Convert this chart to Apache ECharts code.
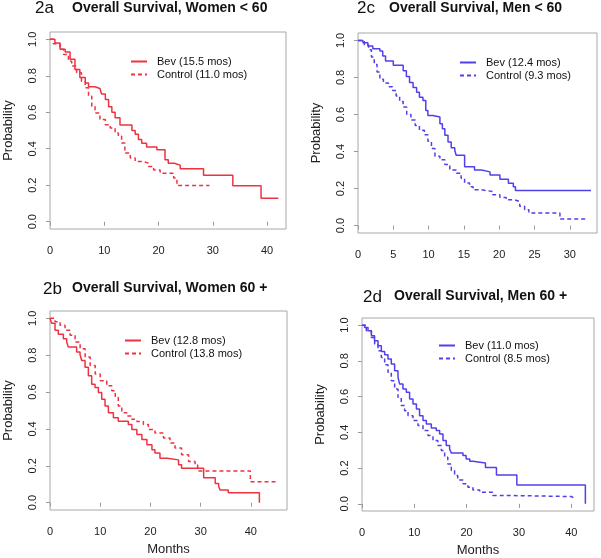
<!DOCTYPE html>
<html>
<head>
<meta charset="utf-8">
<script src="https://cdn.jsdelivr.net/npm/echarts@6/dist/echarts.min.js"></script>
<style>
  html, body { margin: 0; padding: 0; background: #fff; }
  #chart { width: 601px; height: 558px; }
</style>
</head>
<body>
<div id="chart"></div>
<script>
// survival curves: time (months) -> probability after the step
const womenU60BevT  = [0, 0.9, 1.85, 2.8, 3.7, 4.6, 5.5, 6.5, 7.1, 8.3, 9.2, 9.5, 10.2, 10.8, 11.4, 12.0, 12.9, 15.1, 15.7, 16.3, 16.9, 17.8, 19.7, 21.2, 21.8, 22.9, 24.0, 28.3, 33.7, 38.9, 42.1];
const womenU60BevS  = [1.0, 0.98, 0.945, 0.93, 0.89, 0.835, 0.79, 0.76, 0.74, 0.73, 0.72, 0.70, 0.67, 0.63, 0.60, 0.57, 0.53, 0.50, 0.48, 0.45, 0.43, 0.41, 0.395, 0.34, 0.32, 0.31, 0.29, 0.255, 0.197, 0.128, 0.128];
const womenU60CtlT  = [0, 0.6, 1.85, 2.5, 3.4, 4.0, 4.9, 5.8, 6.5, 7.1, 7.7, 8.3, 9.2, 10.2, 11.1, 12.0, 12.6, 13.2, 13.8, 14.8, 15.7, 17.2, 18.2, 19.1, 20.3, 22.8, 23.4, 29.4];
const womenU60CtlS  = [1.0, 0.975, 0.945, 0.917, 0.88, 0.853, 0.817, 0.77, 0.734, 0.688, 0.633, 0.596, 0.56, 0.532, 0.514, 0.486, 0.468, 0.431, 0.376, 0.349, 0.33, 0.321, 0.303, 0.284, 0.266, 0.239, 0.198, 0.198];

const menU60BevT    = [0, 0.7, 1.4, 2.1, 3.1, 3.5, 3.9, 5.0, 6.4, 6.85, 7.3, 7.8, 8.3, 8.7, 9.2, 9.6, 9.9, 10.6, 11.6, 11.95, 12.3, 12.75, 13.2, 13.7, 13.9, 15.1, 16.5, 17.5, 18.7, 20.1, 21.3, 22.0, 22.3, 33.0];
const menU60BevS    = [1.0, 0.988, 0.97, 0.955, 0.943, 0.916, 0.889, 0.866, 0.836, 0.805, 0.773, 0.746, 0.72, 0.693, 0.675, 0.621, 0.595, 0.586, 0.55, 0.523, 0.488, 0.452, 0.421, 0.407, 0.38, 0.318, 0.3, 0.29, 0.273, 0.25, 0.229, 0.21, 0.189, 0.189];
const menU60CtlT    = [0, 0.9, 1.5, 1.9, 2.3, 2.7, 3.1, 3.6, 4.3, 4.9, 5.4, 5.9, 6.4, 6.9, 7.5, 8.1, 8.7, 9.4, 9.9, 10.4, 10.9, 11.6, 12.3, 13.0, 13.9, 14.6, 15.1, 15.8, 16.3, 17.5, 19.1, 20.1, 21.0, 22.2, 22.9, 23.6, 24.2, 28.6, 32.6];
const menU60CtlS    = [1.0, 0.975, 0.95, 0.91, 0.87, 0.83, 0.79, 0.77, 0.75, 0.73, 0.70, 0.67, 0.64, 0.60, 0.57, 0.54, 0.515, 0.49, 0.455, 0.416, 0.375, 0.355, 0.33, 0.30, 0.283, 0.255, 0.23, 0.21, 0.193, 0.184, 0.166, 0.152, 0.139, 0.13, 0.104, 0.086, 0.068, 0.035, 0.035];

const womenO60BevT  = [0, 0.33, 1.0, 1.66, 2.66, 3.32, 3.65, 5.3, 5.98, 6.31, 6.98, 7.64, 8.3, 8.97, 9.63, 10.3, 10.96, 11.63, 12.62, 13.6, 15.6, 16.3, 17.3, 18.3, 19.3, 20.3, 20.9, 21.9, 23.3, 25.6, 26.2, 30.6, 32.9, 33.6, 33.9, 35.5, 41.7];
const womenO60BevS  = [1.0, 0.973, 0.936, 0.914, 0.89, 0.872, 0.845, 0.817, 0.804, 0.771, 0.735, 0.689, 0.643, 0.625, 0.598, 0.561, 0.525, 0.488, 0.461, 0.442, 0.424, 0.397, 0.37, 0.342, 0.314, 0.287, 0.269, 0.241, 0.232, 0.205, 0.186, 0.135, 0.104, 0.086, 0.068, 0.053, 0];
const womenO60CtlT  = [0, 1.0, 2.0, 3.0, 4.0, 5.0, 6.0, 7.0, 8.0, 9.0, 10.0, 11.3, 12.3, 13.0, 13.6, 14.3, 15.3, 16.3, 17.3, 18.6, 19.6, 20.9, 22.6, 23.9, 24.9, 26.2, 27.6, 28.9, 29.4, 39.9, 45.0];
const womenO60CtlS  = [1.0, 0.982, 0.963, 0.936, 0.909, 0.872, 0.835, 0.79, 0.744, 0.698, 0.662, 0.634, 0.607, 0.57, 0.525, 0.488, 0.47, 0.452, 0.44, 0.424, 0.397, 0.378, 0.351, 0.324, 0.296, 0.26, 0.223, 0.205, 0.172, 0.113, 0.113];

const menO60BevT    = [0, 0.5, 1.15, 1.8, 2.4, 3.06, 3.7, 4.33, 4.97, 5.6, 6.24, 6.88, 7.2, 7.83, 8.47, 9.1, 9.75, 10.4, 11.0, 11.66, 12.3, 13.25, 14.2, 14.84, 15.48, 16.1, 16.75, 17.07, 19.3, 19.9, 20.6, 21.2, 23.6, 25.7, 29.6, 42.7];
const menO60BevS    = [1.0, 0.987, 0.968, 0.94, 0.912, 0.885, 0.853, 0.834, 0.81, 0.782, 0.745, 0.708, 0.67, 0.642, 0.624, 0.587, 0.559, 0.531, 0.493, 0.466, 0.447, 0.425, 0.41, 0.391, 0.354, 0.326, 0.307, 0.285, 0.27, 0.251, 0.238, 0.228, 0.203, 0.162, 0.106, 0];
const menO60CtlT    = [0, 0.83, 1.78, 2.42, 3.06, 3.69, 4.33, 4.97, 5.6, 6.24, 6.88, 7.5, 8.15, 8.8, 9.75, 10.7, 11.66, 12.6, 13.57, 14.5, 15.16, 15.8, 16.4, 17.07, 17.7, 18.3, 19.3, 20.25, 21.2, 22.5, 25.0, 27.6, 40.0, 40.4];
const menO60CtlS    = [1.0, 0.968, 0.931, 0.894, 0.857, 0.819, 0.778, 0.736, 0.689, 0.642, 0.596, 0.55, 0.521, 0.493, 0.466, 0.438, 0.41, 0.382, 0.354, 0.326, 0.298, 0.261, 0.223, 0.186, 0.158, 0.134, 0.112, 0.093, 0.078, 0.065, 0.047, 0.041, 0.035, 0.035];

const yTicks = [0, 0.2, 0.4, 0.6, 0.8, 1.0];
const xTicks10 = [0, 10, 20, 30, 40];
const xTicks5 = [0, 5, 10, 15, 20, 25, 30];

const RED = '#ee3340';
const BLUE = '#5040ec';
const FONT = 'Liberation Sans, Arial, sans-serif';

// one entry per panel
const panels = [
  { tag: '2a', title: 'Overall Survival, Women < 60', grid: [50, 32, 236, 197], xMax: 43.5, xTicks: xTicks10, months: false,
    color: RED, bev: 'Bev (15.5 mos)', ctl: 'Control (11.0 mos)', bevT: womenU60BevT, bevS: womenU60BevS, ctlT: womenU60CtlT, ctlS: womenU60CtlS,
    tagPos: [35, 0], titlePos: [72, 1], legendPos: [130, 56] },
  { tag: '2c', title: 'Overall Survival, Men < 60', grid: [358, 33, 239, 200], xMax: 33.85, xTicks: xTicks5, months: false,
    color: BLUE, bev: 'Bev (12.4 mos)', ctl: 'Control (9.3 mos)', bevT: menU60BevT, bevS: menU60BevS, ctlT: menU60CtlT, ctlS: menU60CtlS,
    tagPos: [357, 0], titlePos: [389, 1], legendPos: [459, 57] },
  { tag: '2b', title: 'Overall Survival, Women 60 +', grid: [50, 311, 237, 199], xMax: 47.2, xTicks: xTicks10, months: true,
    color: RED, bev: 'Bev (12.8 mos)', ctl: 'Control (13.8 mos)', bevT: womenO60BevT, bevS: womenO60BevS, ctlT: womenO60CtlT, ctlS: womenO60CtlS,
    tagPos: [43, 281], titlePos: [72, 281], legendPos: [124, 335] },
  { tag: '2d', title: 'Overall Survival, Men 60 +', grid: [362, 318, 232, 193], xMax: 44.35, xTicks: xTicks10, months: true,
    color: BLUE, bev: 'Bev (11.0 mos)', ctl: 'Control (8.5 mos)', bevT: menO60BevT, bevS: menO60BevS, ctlT: menO60CtlT, ctlS: menO60CtlS,
    tagPos: [363, 289], titlePos: [394, 289], legendPos: [438, 340] }
];

function pairs(t, s) {
  return t.map((v, i) => [v, s[i]]);
}

let chart = echarts.init(document.getElementById('chart'), null, { renderer: 'canvas' });

let option = {
  animation: false,
  backgroundColor: '#fff',
  textStyle: { fontFamily: FONT },
  title: [],
  legend: [],
  grid: [],
  xAxis: [],
  yAxis: [],
  series: []
};

panels.forEach((p, i) => {
  option.title.push({
    text: p.tag, left: p.tagPos[0], top: p.tagPos[1], padding: 0,
    textStyle: { fontFamily: FONT, fontSize: 17, fontWeight: 'normal', color: '#111' }
  });
  option.title.push({
    text: p.title, left: p.titlePos[0], top: p.titlePos[1], padding: 0,
    textStyle: { fontFamily: FONT, fontSize: 14, fontWeight: 'bold', color: '#111' }
  });
  option.grid.push({
    left: p.grid[0], top: p.grid[1], width: p.grid[2], height: p.grid[3],
    show: true, borderColor: '#a8a8a8', borderWidth: 1, backgroundColor: 'transparent'
  });
  option.xAxis.push({
    type: 'value', gridIndex: i, min: 0, max: p.xMax,
    name: p.months ? 'Months' : '', nameLocation: 'middle', nameGap: 33,
    nameTextStyle: { fontFamily: FONT, fontSize: 13, color: '#222' },
    axisLine: { show: false },
    axisTick: { show: true, length: 4, lineStyle: { color: '#999' }, customValues: p.xTicks },
    axisLabel: { customValues: p.xTicks, margin: 16, fontFamily: FONT, fontSize: 11, color: '#222' },
    splitLine: { show: false }
  });
  option.yAxis.push({
    type: 'value', gridIndex: i, min: -0.04, max: 1.04,
    name: 'Probability', nameLocation: 'middle', nameGap: 35,
    nameTextStyle: { fontFamily: FONT, fontSize: 13, color: '#222' },
    axisLine: { show: false },
    axisTick: { show: true, length: 4, lineStyle: { color: '#999' }, customValues: yTicks },
    axisLabel: { customValues: yTicks, rotate: 90, margin: 12, fontFamily: FONT, fontSize: 11, color: '#222',
      formatter: v => v.toFixed(1) },
    splitLine: { show: false }
  });
  option.legend.push({
    orient: 'vertical', left: p.legendPos[0], top: p.legendPos[1], padding: 0,
    itemWidth: 16, itemHeight: 10, itemGap: 2,
    itemStyle: { opacity: 0 },
    lineStyle: { opacity: 1 },
    textStyle: { fontFamily: FONT, fontSize: 11, color: '#111', padding: [0, 0, 0, 5] },
    data: [p.bev, p.ctl]
  });
  option.series.push({
    name: p.bev, type: 'line', step: 'end', symbol: 'none', xAxisIndex: i, yAxisIndex: i,
    itemStyle: { color: p.color },
    lineStyle: { color: p.color, width: 1.5, type: 'solid' },
    data: pairs(p.bevT, p.bevS)
  });
  option.series.push({
    name: p.ctl, type: 'line', step: 'end', symbol: 'none', xAxisIndex: i, yAxisIndex: i,
    itemStyle: { color: p.color },
    lineStyle: { color: p.color, width: 1.5, type: [4, 3] },
    data: pairs(p.ctlT, p.ctlS)
  });
});

chart.setOption(option);
</script>
</body>
</html>
